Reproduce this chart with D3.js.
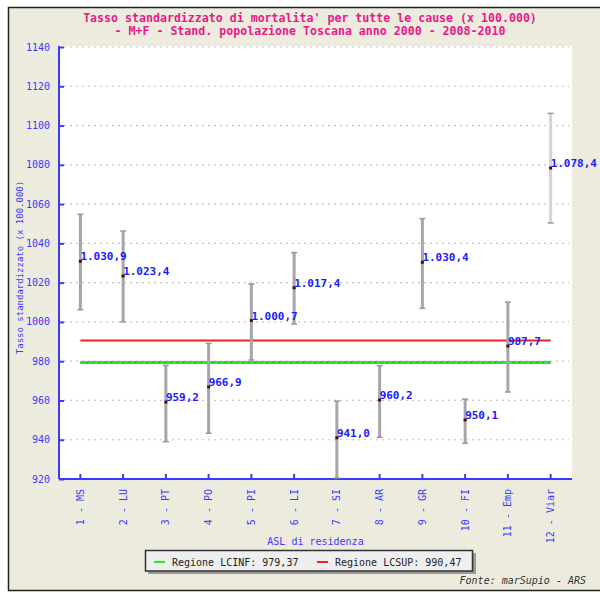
<!DOCTYPE html>
<html>
<head>
<meta charset="utf-8">
<script src="https://cdn.jsdelivr.net/npm/d3@7"></script>
<style>
  body { margin: 0; background: #ffffff; }
  svg { display: block; }
  .mono { font-family: "DejaVu Sans Mono", monospace; }
</style>
</head>
<body>
<div id="chart"></div>
<script>
// ASL categories
var categories = ["1 - MS", "2 - LU", "3 - PT", "4 - PO", "5 - PI", "6 - LI",
                  "7 - SI", "8 - AR", "9 - GR", "10 - FI", "11 - Emp", "12 - Viar"];
// standardized rate and confidence limits
var rates  = [1030.9, 1023.4, 959.2, 966.9, 1000.7, 1017.4, 941.0, 960.2, 1030.4, 950.1, 987.7, 1078.4];
var lower  = [1006.2, 1000.0, 939.0, 943.3, 980.6, 998.9, 920.5, 941.2, 1006.9, 938.2, 964.3, 1050.4];
var upper  = [1054.8, 1046.3, 977.9, 989.1, 1019.3, 1035.3, 959.7, 977.7, 1052.6, 960.7, 1010.1, 1106.2];
var rateLabels = ["1.030,9", "1.023,4", "959,2", "966,9", "1.000,7", "1.017,4",
                  "941,0", "960,2", "1.030,4", "950,1", "987,7", "1.078,4"];
var yTicks = [920, 940, 960, 980, 1000, 1020, 1040, 1060, 1080, 1100, 1120, 1140];
var regionInf = 979.37, regionSup = 990.47;
var legendLabels = ["Regione LCINF: 979,37", "Regione LCSUP: 990,47"];

var W = 600, H = 593;
var plot = {left: 59, right: 572, top: 46, bottom: 479};

var svg = d3.select("#chart").append("svg")
    .attr("width", W).attr("height", H);

// background + frame
svg.append("rect").attr("x", 0).attr("y", 0).attr("width", W).attr("height", H).attr("fill", "#ffffff");
svg.append("rect").attr("x", 8.5).attr("y", 7.5).attr("width", W).attr("height", 583)
    .attr("fill", "#ecebde").attr("stroke", "#222").attr("stroke-width", 1.5);

var x = d3.scaleBand().domain(categories).range([plot.left, plot.right]);
var cx = function(d) { return x(d) + x.bandwidth() / 2; };
var y = d3.scaleLinear().domain([920, 1140]).range([plot.bottom, plot.top + 1]);

svg.append("rect").attr("x", plot.left).attr("y", plot.top)
    .attr("width", plot.right - plot.left).attr("height", plot.bottom - plot.top)
    .attr("fill", "#ffffff");

// title
var title = svg.append("text").attr("class", "mono")
    .attr("text-anchor", "middle").attr("fill", "#e8198b")
    .attr("font-size", "11.6px").attr("font-weight", "bold");
title.append("tspan").attr("x", 310).attr("y", 22)
    .text("Tasso standardizzato di mortalita' per tutte le cause (x 100.000)");
title.append("tspan").attr("x", 310).attr("y", 35)
    .text("- M+F - Stand. popolazione Toscana anno 2000 - 2008-2010");

// gridlines
svg.append("g").selectAll("line").data(yTicks).join("line")
    .attr("x1", plot.left + 5).attr("x2", plot.right - 3)
    .attr("y1", d => y(d)).attr("y2", d => y(d))
    .attr("stroke", "#c4c4c4").attr("stroke-width", 1.2)
    .attr("stroke-dasharray", "2,4");

// y axis
var yAxis = svg.append("g")
    .attr("transform", "translate(" + plot.left + ",0)")
    .call(d3.axisRight(y).tickValues(yTicks).tickSize(5).tickFormat(""));
yAxis.select(".domain").attr("stroke", "#3a3aff").attr("stroke-width", 2)
    .attr("d", "M0," + plot.top + "V" + plot.bottom);
yAxis.selectAll(".tick line").attr("stroke", "#3a3aff").attr("stroke-width", 2);
svg.append("g").selectAll("text").data(yTicks).join("text")
    .attr("class", "mono").attr("x", 50).attr("y", d => y(d) + 3.5)
    .attr("text-anchor", "end").attr("font-size", "10px").attr("fill", "#3a3aff")
    .text(d => d);

// x axis
var xAxis = svg.append("g")
    .attr("transform", "translate(0," + plot.bottom + ")")
    .call(d3.axisTop(x).tickSize(5).tickFormat(""));
xAxis.select(".domain").attr("stroke", "#3a3aff").attr("stroke-width", 2)
    .attr("d", "M" + plot.left + ",0H" + plot.right);
xAxis.selectAll(".tick line").attr("stroke", "#3a3aff").attr("stroke-width", 2);
svg.append("g").selectAll("text").data(categories).join("text")
    .attr("class", "mono").attr("font-size", "10px").attr("fill", "#3a3aff")
    .attr("text-anchor", "end")
    .attr("transform", d => "translate(" + (cx(d) + 3.5) + ",489) rotate(-90)")
    .text(d => d);

// axis titles
svg.append("text").attr("class", "mono").attr("x", (plot.left + plot.right) / 2).attr("y", 545)
    .attr("text-anchor", "middle").attr("font-size", "10px").attr("fill", "#3a3aff")
    .text("ASL di residenza");
svg.append("text").attr("class", "mono").attr("font-size", "9px").attr("fill", "#3a3aff")
    .attr("text-anchor", "middle")
    .attr("transform", "translate(23," + ((plot.top + plot.bottom) / 2 + 5) + ") rotate(-90)")
    .text("Tasso standardizzato (x 100.000)");

// region limit lines
var x0 = cx(categories[0]), x1 = cx(categories[categories.length - 1]);
svg.append("line").attr("x1", x0).attr("x2", x1)
    .attr("y1", y(regionInf)).attr("y2", y(regionInf))
    .attr("stroke", "#2ee82e").attr("stroke-width", 3);
svg.append("line").attr("x1", x0).attr("x2", x1)
    .attr("y1", y(regionInf)).attr("y2", y(regionInf))
    .attr("stroke", "#1bb01b").attr("stroke-width", 1).attr("stroke-dasharray", "2,4");
svg.append("line").attr("x1", x0).attr("x2", x1)
    .attr("y1", y(regionSup)).attr("y2", y(regionSup))
    .attr("stroke", "#ee2222").attr("stroke-width", 2);

// error bars
var idx = d3.range(categories.length);
var barColor = function(i) { return i === categories.length - 1 ? "#d4d4d4" : "#a6a6a6"; };
var bars = svg.append("g");
bars.selectAll("line.bar").data(idx).join("line").attr("class", "bar")
    .attr("x1", i => cx(categories[i])).attr("x2", i => cx(categories[i]))
    .attr("y1", i => y(upper[i])).attr("y2", i => y(lower[i]))
    .attr("stroke", barColor).attr("stroke-width", 3);
bars.selectAll("line.capT").data(idx).join("line").attr("class", "capT")
    .attr("x1", i => cx(categories[i]) - 3).attr("x2", i => cx(categories[i]) + 3)
    .attr("y1", i => y(upper[i])).attr("y2", i => y(upper[i]))
    .attr("stroke", "#999").attr("stroke-width", 1.5);
bars.selectAll("line.capB").data(idx).join("line").attr("class", "capB")
    .attr("x1", i => cx(categories[i]) - 3).attr("x2", i => cx(categories[i]) + 3)
    .attr("y1", i => y(lower[i])).attr("y2", i => y(lower[i]))
    .attr("stroke", "#999").attr("stroke-width", 1.5);

// points
svg.append("g").selectAll("rect").data(idx).join("rect")
    .attr("x", i => cx(categories[i]) - 1.5).attr("y", i => y(rates[i]) - 1.5)
    .attr("width", 3).attr("height", 3).attr("fill", "#4a0a0a");

// value labels
svg.append("g").selectAll("text").data(idx).join("text")
    .attr("class", "mono").attr("font-size", "11px").attr("font-weight", "bold")
    .attr("fill", "#1a1aff")
    .attr("x", i => cx(categories[i])).attr("y", i => y(rates[i]) - 1)
    .text(i => rateLabels[i]);

// legend
var lg = svg.append("g");
lg.append("rect").attr("x", 148).attr("y", 553).attr("width", 328).attr("height", 21).attr("fill", "#9a9a9a");
lg.append("rect").attr("x", 145.5).attr("y", 550.5).attr("width", 327).attr("height", 20.5)
    .attr("fill", "#efefef").attr("stroke", "#333").attr("stroke-width", 1.5);
var legendColors = ["#22ee22", "#ee2222"];
var legendX = [154, 317];
legendLabels.forEach(function(t, i) {
    lg.append("line").attr("x1", legendX[i]).attr("x2", legendX[i] + 11)
        .attr("y1", 562).attr("y2", 562).attr("stroke", legendColors[i]).attr("stroke-width", 2);
    lg.append("text").attr("class", "mono").attr("x", legendX[i] + 18).attr("y", 565.5)
        .attr("font-size", "10px").attr("fill", "#222").text(t);
});

// source
svg.append("text").attr("class", "mono").attr("x", 586).attr("y", 584)
    .attr("text-anchor", "end").attr("font-size", "10px").attr("font-style", "italic")
    .attr("fill", "#333").text("Fonte: marSupio - ARS");
</script>
</body>
</html>
